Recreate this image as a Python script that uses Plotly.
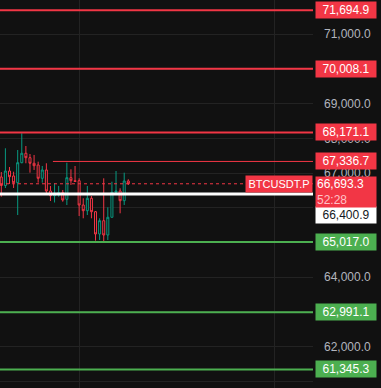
import plotly.graph_objects as go

# ---- data ----
bar_index = list(range(32))
opens  = [66889, 66644, 67062, 66918, 66725, 67301, 67572, 67445, 67284, 67234,
          66851, 67091, 66485, 66350, 66370, 66437, 66246, 66869, 66782, 66782,
          66082, 65918, 66275, 65889, 65247, 65630, 65218, 65728, 66448, 66485,
          66206, 66774]
highs  = [67033, 67716, 67177, 67042, 67667, 68148, 67782, 67551, 67523, 67330,
          67206, 67284, 66630, 66707, 66630, 66514, 67301, 67111, 67206, 66851,
          66275, 66630, 66341, 65909, 65699, 66851, 66016, 66753, 67062, 66563,
          67013, 66823]
lows   = [66321, 66572, 66687, 66572, 65794, 67284, 67284, 67013, 67091, 66725,
          66725, 66370, 66197, 66154, 66321, 66177, 66082, 66658, 66753, 65765,
          65699, 65794, 65699, 65054, 65074, 64996, 65074, 65728, 66370, 65843,
          66082, 66658]
closes = [66644, 67062, 66897, 66725, 67301, 67572, 67445, 67284, 67214, 66851,
          67091, 66485, 66350, 66420, 66437, 66226, 66869, 66782, 66760, 66082,
          65918, 66275, 65889, 65247, 65630, 65218, 65728, 66448, 66485, 66206,
          66774, 66693.3]

red_levels = [71694.9, 70008.1, 68171.1]
partial_red_level = 67336.7
partial_red_start = 12.6          # bar index where this line starts
last_price = 66693.3
countdown = "52:28"
symbol = "BTCUSDT.P"
white_level = 66400.9
green_levels = [65017.0, 62991.1, 61345.3]

x_range = [-0.317, 76.08]
y_range = [60810, 71988]
time_grid = [19, 66.8]

BG = "#111111"
GRID = "#232323"
RED = "#F23645"
GREEN_C = "#089981"
GREEN_L = "#4CAF50"
FONT = "Liberation Sans, Arial, sans-serif"

fig = go.Figure()
fig.add_trace(go.Candlestick(
    x=bar_index, open=opens, high=highs, low=lows, close=closes,
    increasing=dict(line=dict(color=GREEN_C, width=1), fillcolor=BG),
    decreasing=dict(line=dict(color=RED, width=1), fillcolor=BG),
    whiskerwidth=0, hoverinfo="skip", showlegend=False,
))

shapes = []
for lv in red_levels:
    shapes.append(dict(type="line", xref="paper", yref="y", x0=0, x1=1, y0=lv, y1=lv,
                       line=dict(color=RED, width=2), layer="above"))
shapes.append(dict(type="line", xref="x", yref="y", x0=partial_red_start, x1=x_range[1],
                   y0=partial_red_level, y1=partial_red_level,
                   line=dict(color=RED, width=1), layer="above"))
shapes.append(dict(type="line", xref="paper", yref="y", x0=0, x1=1, y0=last_price, y1=last_price,
                   line=dict(color=RED, width=1, dash="dot"), layer="above"))
shapes.append(dict(type="line", xref="paper", yref="y", x0=0, x1=1, y0=white_level, y1=white_level,
                   line=dict(color="#FFFFFF", width=3), layer="above"))
for lv in green_levels:
    shapes.append(dict(type="line", xref="paper", yref="y", x0=0, x1=1, y0=lv, y1=lv,
                       line=dict(color=GREEN_L, width=2), layer="above"))

anns = []
def price_label(val, bg, fg, yshift=0):
    anns.append(dict(xref="paper", yref="y", x=1, y=val, xanchor="left", yanchor="middle",
                     xshift=2, yshift=yshift, text=f"{val:,.1f}", showarrow=False,
                     bgcolor=bg, font=dict(color=fg, size=12, family=FONT),
                     width=58, height=14, borderpad=1, align="center"))

for lv in red_levels + [partial_red_level]:
    price_label(lv, RED, "#FFFFFF")
for lv in green_levels:
    price_label(lv, GREEN_L, "#FFFFFF")
price_label(white_level, "#FFFFFF", "#131722", yshift=-21)

anns.append(dict(xref="paper", yref="y", x=1, y=last_price, xanchor="left", yanchor="top",
                 xshift=2, yshift=8,
                 text=f"{last_price:,.1f}<br><span style='color:#FFC2C7'>{countdown}</span>",
                 showarrow=False, bgcolor=RED, font=dict(color="#FFFFFF", size=12, family=FONT),
                 width=58, height=28, borderpad=1, align="left"))
anns.append(dict(xref="paper", yref="y", x=1, y=last_price, xanchor="right", yanchor="middle",
                 xshift=0, text=symbol, showarrow=False, bgcolor=RED,
                 font=dict(color="#FFFFFF", size=11, family=FONT),
                 width=64, height=14, borderpad=1, align="center"))

fig.update_layout(
    width=381, height=388,
    margin=dict(l=0, r=68, t=0, b=0),
    paper_bgcolor=BG, plot_bgcolor=BG,
    shapes=shapes, annotations=anns,
    showlegend=False, hovermode=False,
    xaxis=dict(range=x_range, rangeslider=dict(visible=False), showticklabels=False,
               tickmode="array", tickvals=time_grid, showgrid=True, gridcolor=GRID,
               zeroline=False, showline=False, fixedrange=True),
    yaxis=dict(range=y_range, side="right", dtick=1000, tick0=0, tickformat=",.1f",
               showgrid=True, gridcolor=GRID, zeroline=False, showline=False,
               ticks="", ticklabelstandoff=10,
               tickfont=dict(color="#B2B5BE", size=12, family=FONT), fixedrange=True),
)

fig.write_html("out.html", config={"displayModeBar": False})
